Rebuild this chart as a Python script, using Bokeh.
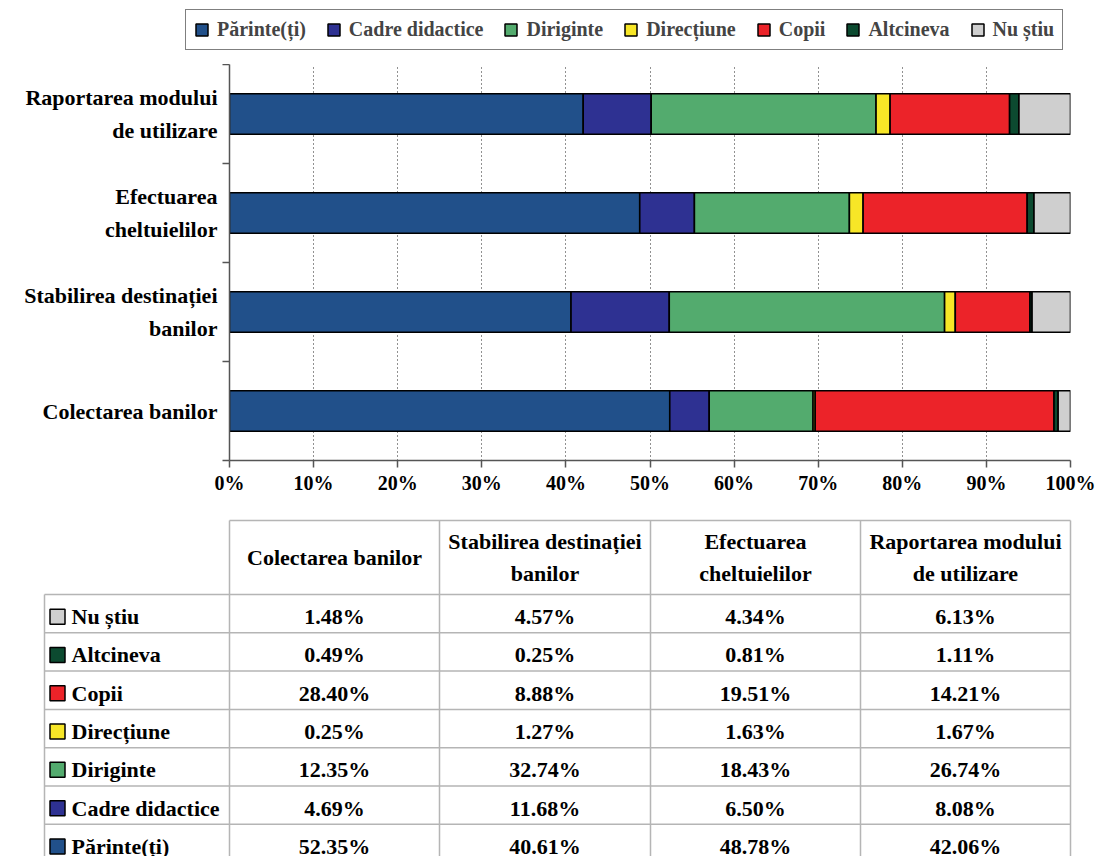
from bokeh.plotting import figure
from bokeh.models import ColumnDataSource, Range1d, FixedTicker, Legend, LegendItem
from bokeh.core.properties import value
from bokeh.embed import file_html
from bokeh.resources import INLINE

# ---------------- data ----------------
categories = ["Colectarea banilor", "Stabilirea destinației\nbanilor",
              "Efectuarea\ncheltuielilor", "Raportarea modului\nde utilizare"]
series_names = ["Părinte(ți)", "Cadre didactice", "Diriginte", "Direcțiune",
                "Copii", "Altcineva", "Nu știu"]
parinti = [52.35, 40.61, 48.78, 42.06]
cadre = [4.69, 11.68, 6.50, 8.08]
diriginte = [12.35, 32.74, 18.43, 26.74]
directiune = [0.25, 1.27, 1.63, 1.67]
copii = [28.40, 8.88, 19.51, 14.21]
altcineva = [0.49, 0.25, 0.81, 1.11]
nu_stiu = [1.48, 4.57, 4.34, 6.13]
x_ticks = [0, 10, 20, 30, 40, 50, 60, 70, 80, 90, 100]
x_tick_labels = ["0%", "10%", "20%", "30%", "40%", "50%", "60%", "70%", "80%", "90%", "100%"]

series_values = [parinti, cadre, diriginte, directiune, copii, altcineva, nu_stiu]
colors = ["#21508A", "#2E3192", "#53AB6E", "#F7E627", "#EC2329", "#0C4A30", "#CFCFCF"]

FONT_NAME = "Liberation Serif"
FONT = value(FONT_NAME)
keys = ["s%d" % i for i in range(len(series_names))]
ypos = [i + 0.5 for i in range(len(categories))]

src = ColumnDataSource(dict(y=ypos, **{k: v for k, v in zip(keys, series_values)}))

# ---------------- legend strip ----------------
lf = figure(width=1104, height=64, x_range=Range1d(0, 1104), y_range=Range1d(0, 64),
            output_backend="svg", toolbar_location=None, min_border=0)
lf.axis.visible = False
lf.grid.visible = False
lf.outline_line_color = None
# off-view placeholder glyphs: they only supply the legend swatch styles
leg_renderers = [lf.rect(x=[-500], y=[-500], width=1, height=1, fill_color=c, line_color="black",
                         line_width=1.5) for c in colors]
legend = Legend(items=[LegendItem(label=n, renderers=[r]) for n, r in zip(series_names, leg_renderers)],
                orientation="horizontal", location=(185, 14), margin=0, padding=8,
                spacing=20, glyph_width=15, glyph_height=15, label_standoff=8,
                label_text_font=FONT_NAME, label_text_font_style="bold", label_text_font_size="20px",
                border_line_color="black", border_line_width=1, background_fill_alpha=1)
lf.add_layout(legend)

# ---------------- chart ----------------
p = figure(width=1104, height=444, x_range=Range1d(0, 100), y_range=Range1d(0, len(categories)),
           output_backend="svg", toolbar_location=None,
           min_border_left=229, min_border_right=34, min_border_top=0, min_border_bottom=48)
p.outline_line_color = None
p.background_fill_color = "white"

p.xgrid.ticker = FixedTicker(ticks=x_ticks)
p.xgrid.grid_line_color = "#222222"
p.xgrid.grid_line_dash = "1 3"
p.xgrid.grid_line_width = 1
p.ygrid.grid_line_color = None

renderers = p.hbar_stack(keys, y="y", height=0.41, fill_color=colors, line_color="black",
                         line_width=1.6, source=src)

# x axis
xa = p.xaxis[0]
xa.ticker = FixedTicker(ticks=x_ticks)
xa.major_label_overrides = {t: l for t, l in zip(x_ticks, x_tick_labels)}
xa.axis_line_color = "#555555"
xa.axis_line_width = 1.5
xa.major_tick_line_color = "#555555"
xa.major_tick_line_width = 1.5
xa.major_tick_in = 0
xa.major_tick_out = 7
xa.minor_tick_line_color = None
xa.major_label_standoff = 4
xa.major_label_text_font = FONT_NAME
xa.major_label_text_font_style = "bold"
xa.major_label_text_font_size = "20px"
xa.major_label_text_color = "black"

# y axis
ya = p.yaxis[0]
ya.ticker = FixedTicker(ticks=ypos, minor_ticks=list(range(len(categories) + 1)))
ya.major_label_overrides = {y: c for y, c in zip(ypos, categories)}
ya.axis_line_color = "#555555"
ya.axis_line_width = 1.5
ya.major_tick_line_color = None
ya.major_tick_in = 0
ya.major_tick_out = 0
ya.minor_tick_line_color = "#555555"
ya.minor_tick_line_width = 1.5
ya.minor_tick_in = 0
ya.minor_tick_out = 7
ya.major_label_standoff = 5
ya.major_label_text_font = FONT_NAME
ya.major_label_text_font_style = "bold"
ya.major_label_text_font_size = "22px"
ya.major_label_text_color = "black"
ya.major_label_text_line_height = 1.3

# ---------------- data table ----------------
t = figure(width=1104, height=348, x_range=Range1d(0, 1104), y_range=Range1d(856, 508),
           output_backend="svg", toolbar_location=None, min_border=0)
t.axis.visible = False
t.grid.visible = False
t.outline_line_color = None

col_edges = [229, 439, 650, 860, 1070]
head_top = 520
row_top = 594
row_h = 38.3
n_rows = len(series_names)
grid_c = "#B5B5B5"

t.segment(x0=[col_edges[0]], y0=[head_top], x1=[col_edges[-1]], y1=[head_top], line_color=grid_c, line_width=1.5)
t.segment(x0=col_edges, y0=[head_top] * len(col_edges), x1=col_edges, y1=[880] * len(col_edges),
          line_color=grid_c, line_width=1.5)
t.segment(x0=[44], y0=[row_top], x1=[44], y1=[880], line_color=grid_c, line_width=1.5)
hy = [row_top + k * row_h for k in range(n_rows + 1)]
t.segment(x0=[44] * len(hy), y0=hy, x1=[col_edges[-1]] * len(hy), y1=hy, line_color=grid_c, line_width=1.5)

col_centers = [(a + b) / 2 for a, b in zip(col_edges[:-1], col_edges[1:])]
t.text(x=col_centers, y=[557] * len(col_centers), text=categories, text_align="center",
       text_baseline="middle", text_font=FONT, text_font_style="bold", text_font_size="22px",
       text_line_height=1.3, text_color="black")

rows_order = list(range(n_rows))[::-1]
rx, ry, rt, sy, sc, lt = [], [], [], [], [], []
for ri, si in enumerate(rows_order):
    cy = row_top + ri * row_h + row_h / 2 + 3
    sy.append(cy)
    sc.append(colors[si])
    lt.append(series_names[si])
    for ci in range(len(categories)):
        rx.append(col_centers[ci])
        ry.append(cy)
        rt.append("%.2f%%" % series_values[si][ci])

t.text(x=rx, y=ry, text=rt, text_align="center", text_baseline="middle", text_font=FONT,
       text_font_style="bold", text_font_size="22px", text_color="black")
t.rect(x=[57] * len(sy), y=sy, width=15, height=15, fill_color=sc, line_color="black", line_width=1.5)
t.text(x=[71] * len(sy), y=sy, text=lt, text_align="left", text_baseline="middle", text_font=FONT,
       text_font_style="bold", text_font_size="22px", text_color="black")

open("out.html", "w").write(file_html([lf, p, t], INLINE))
